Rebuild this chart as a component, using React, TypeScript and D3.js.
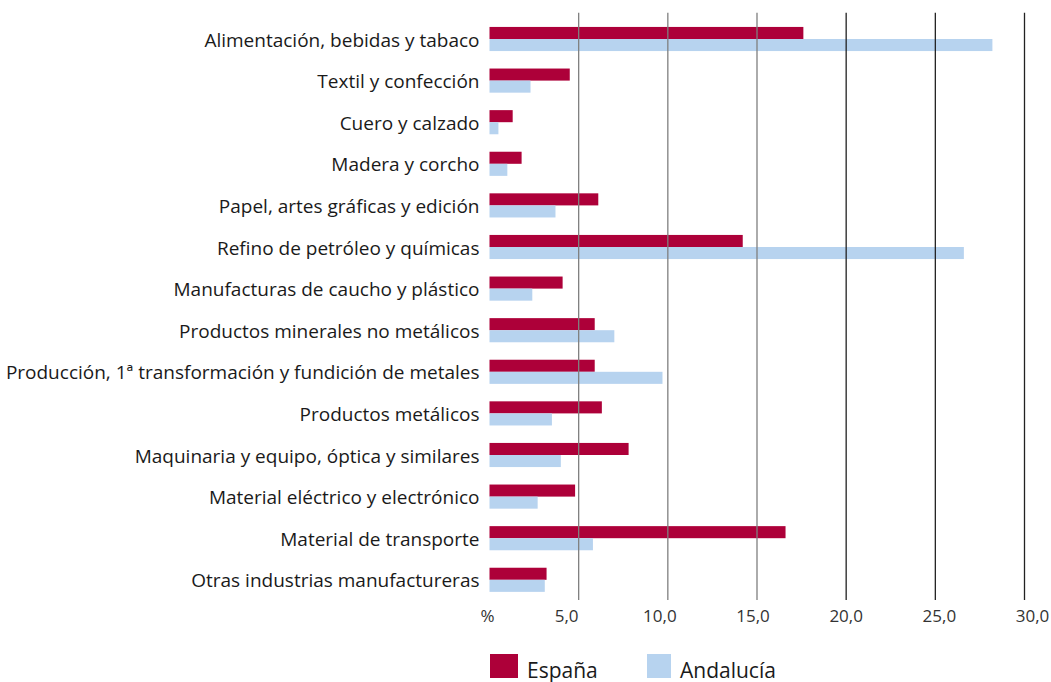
import * as d3 from "d3";

const categories = [
  "Alimentación, bebidas y tabaco",
  "Textil y confección",
  "Cuero y calzado",
  "Madera y corcho",
  "Papel, artes gráficas y edición",
  "Refino de petróleo y químicas",
  "Manufacturas de caucho y plástico",
  "Productos minerales no metálicos",
  "Producción, 1ª transformación y fundición de metales",
  "Productos metálicos",
  "Maquinaria y equipo, óptica y similares",
  "Material eléctrico y electrónico",
  "Material de transporte",
  "Otras industrias manufactureras",
];

const espana = [17.6, 4.5, 1.3, 1.8, 6.1, 14.2, 4.1, 5.9, 5.9, 6.3, 7.8, 4.8, 16.6, 3.2];
const andalucia = [28.2, 2.3, 0.5, 1.0, 3.7, 26.6, 2.4, 7.0, 9.7, 3.5, 4.0, 2.7, 5.8, 3.1];

const ticks = [5, 10, 15, 20, 25, 30];
const tickLabels = ["5,0", "10,0", "15,0", "20,0", "25,0", "30,0"];

const seriesNames = ["España", "Andalucía"];
const colors = ["#AD0039", "#B7D3EF"];

const W = 1051;
const H = 682;
const FONT = "'Open Sans', 'Noto Sans', sans-serif";

export default function App() {
  const x = d3.scaleLinear().domain([0, 30]).range([489.5, 1024.5]);
  const y = d3.scaleBand<number>()
    .domain(d3.range(categories.length))
    .range([18.2, 600.6])
    .paddingInner(0.42)
    .paddingOuter(0.21);
  const half = y.bandwidth() / 2;
  // tick labels drift slightly to the right of the grid in the original
  const xl = d3.scaleLinear().domain([5, 30]).range([x(5) - 12, x(30) + 8]);

  return (
    <div style={{ position: "absolute", left: 0, top: 0 }}>
      <svg width={W} height={H} style={{ display: "block", fontFamily: FONT }}>
        <rect width={W} height={H} fill="#fff" />
        {categories.map((c, i) => (
          <g key={c}>
            <rect
              x={x(0)}
              y={y(i)!}
              width={x(espana[i]) - x(0)}
              height={half}
              fill={colors[0]}
            />
            <rect
              x={x(0)}
              y={y(i)! + half}
              width={x(andalucia[i]) - x(0)}
              height={half}
              fill={colors[1]}
            />
            <text
              x={x(0) - 10}
              y={y(i)! + half + 7.5}
              textAnchor="end"
              fontSize={19}
              fill="#1a1a1a"
            >
              {c}
            </text>
          </g>
        ))}
        {ticks.map((t) => (
          <line
            key={t}
            x1={x(t)}
            x2={x(t)}
            y1={12.7}
            y2={600}
            stroke={t <= 15 ? "#7f7f7f" : "#222"}
            strokeWidth={1.3}
          />
        ))}
        <text x={x(0) - 2} y={622} textAnchor="middle" fontSize={17} fill="#333">
          %
        </text>
        {ticks.map((t, i) => (
          <text key={t} x={xl(t)} y={622} textAnchor="middle" fontSize={17} fill="#333">
            {tickLabels[i]}
          </text>
        ))}
        {seriesNames.map((s, i) => (
          <g key={s} transform={`translate(${490 + i * 157},654)`}>
            <rect width={i === 0 ? 28 : 24} height={24} fill={colors[i]} />
            <text x={i === 0 ? 37 : 33} y={23.5} fontSize={21} fill="#1a1a1a">
              {s}
            </text>
          </g>
        ))}
      </svg>
    </div>
  );
}
